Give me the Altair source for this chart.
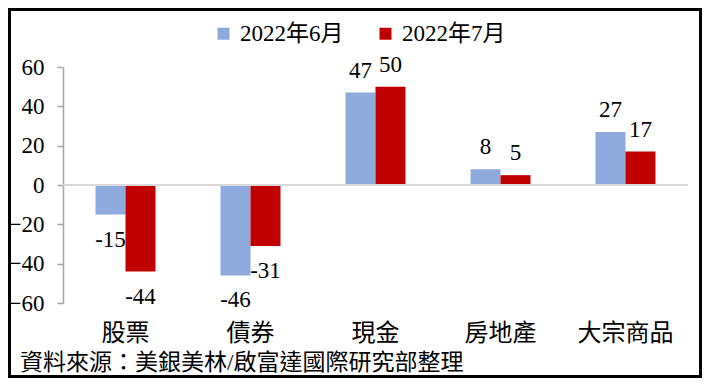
import altair as alt
import pandas as pd

categories = ["股票", "債券", "現金", "房地產", "大宗商品"]
series_names = ["2022年6月", "2022年7月"]
june = [-15, -46, 47, 8, 27]
july = [-44, -31, 50, 5, 17]
y_ticks = [-60, -40, -20, 0, 20, 40, 60]
source_text = "資料來源：美銀美林/啟富達國際研究部整理"
colors = ["#8EA9DB", "#C00000"]

rows = []
for c, a, b in zip(categories, june, july):
    rows.append({"cat": c, "series": series_names[0], "value": a})
    rows.append({"cat": c, "series": series_names[1], "value": b})
df = pd.DataFrame(rows)
df["label"] = df["value"].astype(str)

FONT = "Liberation Serif, Noto Sans CJK TC"
SERIF = "Liberation Serif"
W, H = 625, 236

x = alt.X(
    "cat:N", sort=categories,
    scale=alt.Scale(paddingInner=0.52, paddingOuter=0.26),
    axis=alt.Axis(title=None, domain=False, ticks=False, labelAngle=0,
                  labelFontSize=24, labelColor="black",
                  labelPadding=18, labelBaseline="top"),
)
xo = alt.XOffset("series:N", sort=series_names,
                 scale=alt.Scale(paddingInner=0, paddingOuter=0))
y_axis = alt.Axis(values=y_ticks, title=None, grid=False,
                  domainColor="#A6A6A6", domainWidth=1.5,
                  tickColor="#A6A6A6", tickSize=6, tickWidth=1.5,
                  labelFont=SERIF, labelFontSize=23, labelColor="black",
                  labelPadding=13)
y = alt.Y("value:Q",
          scale=alt.Scale(domain=[-60, 60], nice=False, zero=False),
          axis=y_axis)

base = alt.Chart(df)

bars = base.mark_bar().encode(
    x=x, xOffset=xo, y=y,
    color=alt.Color(
        "series:N", sort=series_names,
        scale=alt.Scale(domain=series_names, range=colors),
        legend=alt.Legend(
            title=None, orient="none", legendX=149, legendY=-45,
            direction="horizontal", columns=2, symbolType="square",
            symbolSize=144, symbolStrokeWidth=0,
            labelFontSize=23, labelColor="black", labelOffset=5,
            columnPadding=30, padding=0, labelLimit=0,
        ),
    ),
)

zero = alt.Chart(pd.DataFrame({"value": [0]})).mark_rule(
    color="#D9D9D9", strokeWidth=2
).encode(y=y)

pos_labels = base.transform_filter("datum.value >= 0").mark_text(
    baseline="alphabetic", dy=-15, font=SERIF, fontSize=23, color="black"
).encode(x=alt.X("cat:N", sort=categories), xOffset=xo,
         y=y, text="label:N")

neg_labels = base.transform_filter("datum.value < 0").mark_text(
    baseline="top", dy=14, font=SERIF, fontSize=23, color="black"
).encode(x=alt.X("cat:N", sort=categories), xOffset=xo,
         y=y, text="label:N")

source = alt.Chart(pd.DataFrame({"t": [source_text]})).mark_text(
    align="left", baseline="middle", fontSize=23, color="black"
).encode(x=alt.value(-43), y=alt.value(296), text="t:N")

border = alt.Chart(pd.DataFrame({"a": [0]})).mark_rect(
    fillOpacity=0, stroke="black", strokeWidth=3
).encode(x=alt.value(-53.5), x2=alt.value(637.5),
         y=alt.value(-57.5), y2=alt.value(309.5))

chart = alt.layer(bars, zero, pos_labels, neg_labels, source, border).properties(
    width=W, height=H,
    autosize=alt.AutoSizeParams(type="none"),
    padding={"left": 55, "top": 59, "right": 14, "bottom": 75},
).configure(font=FONT).configure_view(stroke=None)

chart.save("out.html", embed_options={"renderer": "svg", "actions": False})
